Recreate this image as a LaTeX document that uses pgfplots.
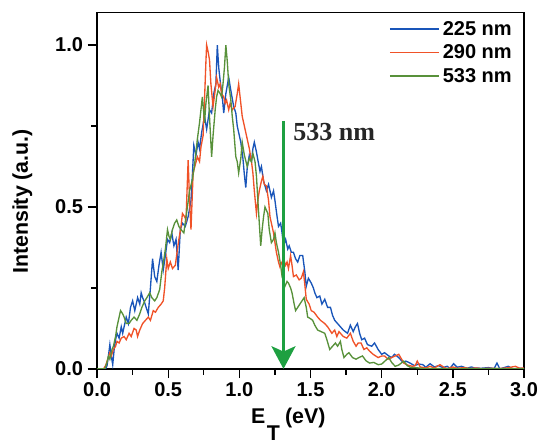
\documentclass[border=0pt]{standalone}
\usepackage{fontspec}
\setmainfont{Liberation Sans}
\newfontfamily\timesb{Liberation Serif}
\usepackage{pgfplots}
\pgfplotsset{compat=1.18}
\usetikzlibrary{arrows.meta}

\definecolor{c225}{RGB}{25,85,185}
\definecolor{c290}{RGB}{240,82,40}
\definecolor{c533}{RGB}{88,145,58}
\definecolor{arrowgreen}{RGB}{30,160,65}

\begin{document}
\begin{tikzpicture}
\begin{axis}[
  scale only axis,
  width=320pt, height=267pt,
  xmin=0, xmax=3, ymin=0, ymax=1.1,
  xtick={0,0.5,...,3}, ytick={0,0.5,1},
  minor x tick num=1, minor y tick num=1,
  xtick pos=bottom, ytick pos=left,
  tick align=outside,
  major tick length=7pt, minor tick length=4.5pt,
  every tick/.style={black, line width=1pt},
  axis line style={line width=1pt},
  /pgf/number format/assume math mode=true,
  /pgf/number format/.cd, fixed, fixed zerofill, precision=1, /pgfplots/.cd,
  tick label style={font=\bfseries\fontsize{15}{17}\selectfont},
  xlabel={E\raisebox{-13pt}[0pt][0pt]{\hspace{1pt}T}\hspace{4pt}(eV)},
  ylabel={Intensity (a.u.)},
  label style={font=\bfseries\fontsize{16}{18}\selectfont},
  xlabel style={at={(axis description cs:0.448,-0.152)}, anchor=base},
  ylabel style={at={(axis description cs:-0.175,0.47)}, anchor=center},
  legend style={at={(rel axis cs:1,1)}, anchor=north east, xshift=-6pt, yshift=-3.4pt,
    draw=none, fill=none, font=\bfseries\fontsize{15}{17}\selectfont,
    row sep=1.6pt, inner sep=1pt},
  legend cell align=left,
  legend image code/.code={\draw[#1, line width=1.2pt] (0pt,0.2pt) -- (37pt,0.2pt);},
]
\addplot[color=c225, line width=1pt] coordinates {
(0.00,0) (0.06,0) (0.07,0.01) (0.08,0.04) (0.09,0.075) (0.10,0.04) (0.11,0.013)
(0.12,0.06) (0.13,0.09) (0.14,0.11) (0.155,0.095) (0.17,0.13) (0.18,0.11) (0.19,0.13)
(0.205,0.16) (0.22,0.14) (0.235,0.19) (0.25,0.21) (0.265,0.18) (0.285,0.22) (0.30,0.20)
(0.31,0.235) (0.32,0.22) (0.33,0.21) (0.345,0.19) (0.36,0.17) (0.375,0.25) (0.39,0.34)
(0.405,0.285) (0.42,0.27) (0.435,0.32) (0.45,0.36) (0.465,0.305) (0.48,0.35) (0.495,0.40)
(0.51,0.39) (0.525,0.42) (0.54,0.38) (0.555,0.40) (0.57,0.305) (0.585,0.43) (0.60,0.45)
(0.62,0.44) (0.64,0.47) (0.66,0.52) (0.67,0.60) (0.68,0.69) (0.695,0.66) (0.71,0.70)
(0.72,0.68) (0.735,0.73) (0.755,0.78) (0.77,0.74) (0.79,0.80) (0.805,0.79) (0.82,0.85)
(0.835,0.88) (0.845,1.0) (0.855,0.93) (0.865,0.89) (0.88,0.84) (0.89,0.79) (0.905,0.85)
(0.925,0.90) (0.94,0.86) (0.96,0.81) (0.975,0.79) (0.985,0.75) (1.00,0.72) (1.01,0.70)
(1.025,0.65) (1.035,0.60) (1.045,0.56) (1.055,0.62) (1.07,0.66) (1.085,0.64) (1.095,0.68)
(1.105,0.70) (1.12,0.67) (1.13,0.645) (1.145,0.61) (1.155,0.625) (1.17,0.58) (1.19,0.55)
(1.205,0.57) (1.225,0.53) (1.24,0.55) (1.25,0.52) (1.265,0.47) (1.275,0.44) (1.29,0.45)
(1.30,0.42) (1.31,0.38) (1.325,0.40) (1.34,0.37) (1.35,0.38) (1.365,0.36) (1.38,0.36)
(1.395,0.34) (1.41,0.33) (1.425,0.35) (1.445,0.35) (1.46,0.30) (1.47,0.255) (1.485,0.28)
(1.505,0.265) (1.52,0.25) (1.53,0.235) (1.545,0.22) (1.565,0.225) (1.58,0.20) (1.60,0.215)
(1.62,0.19) (1.64,0.19) (1.655,0.165) (1.67,0.15) (1.69,0.14) (1.71,0.13) (1.73,0.12)
(1.76,0.11) (1.78,0.135) (1.80,0.115) (1.815,0.13) (1.83,0.14) (1.845,0.11) (1.86,0.09)
(1.88,0.095) (1.90,0.075) (1.93,0.07) (1.95,0.08) (1.975,0.06) (2.00,0.045) (2.02,0.05)
(2.05,0.04) (2.07,0.035) (2.09,0.045) (2.12,0.035) (2.15,0.02) (2.17,0.024) (2.20,0.018)
(2.23,0.01) (2.26,0.015) (2.29,0.013) (2.31,0.005) (2.34,0.016) (2.37,0.006) (2.40,0.01)
(2.43,0.004) (2.46,0.008) (2.48,0.002) (2.505,0.016) (2.53,0.005) (2.56,0.008) (2.60,0.002)
(2.63,0.006) (2.65,0.003) (2.70,0.002) (2.75,0.004) (2.79,0.001) (2.81,0.018) (2.83,0.0)
(2.86,0.004) (2.89,0.008) (2.92,0.0) (2.96,0.002) (3.00,0.001)
};
\addlegendentry{225 nm}
\addplot[color=c290, line width=1pt] coordinates {
(0.00,0) (0.045,0) (0.06,0.01) (0.075,0.03) (0.09,0.05) (0.10,0.04) (0.115,0.06)
(0.13,0.07) (0.14,0.085) (0.155,0.08) (0.17,0.095) (0.19,0.10) (0.205,0.09) (0.225,0.11)
(0.24,0.10) (0.26,0.125) (0.275,0.12) (0.285,0.10) (0.30,0.12) (0.32,0.14) (0.34,0.15)
(0.36,0.16) (0.375,0.15) (0.395,0.18) (0.41,0.175) (0.43,0.19) (0.45,0.20) (0.465,0.21)
(0.475,0.25) (0.49,0.34) (0.50,0.31) (0.515,0.33) (0.53,0.31) (0.55,0.32) (0.565,0.37)
(0.575,0.40) (0.59,0.44) (0.60,0.48) (0.615,0.47) (0.625,0.46) (0.64,0.645) (0.65,0.52)
(0.66,0.43) (0.675,0.605) (0.69,0.63) (0.705,0.655) (0.72,0.64) (0.73,0.685) (0.745,0.72)
(0.755,0.83) (0.765,0.95) (0.77,1.0) (0.78,0.98) (0.79,0.955) (0.80,0.88) (0.815,0.81)
(0.83,0.86) (0.84,0.90) (0.855,0.87) (0.865,0.88) (0.875,0.85) (0.89,0.84) (0.90,0.82)
(0.91,0.83) (0.925,0.80) (0.935,0.82) (0.95,0.80) (0.97,0.81) (0.985,0.85) (0.995,0.88)
(1.01,0.82) (1.02,0.78) (1.035,0.75) (1.055,0.71) (1.07,0.68) (1.085,0.64) (1.095,0.605)
(1.105,0.55) (1.12,0.48) (1.13,0.52) (1.14,0.55) (1.155,0.58) (1.165,0.595) (1.175,0.57)
(1.19,0.565) (1.205,0.52) (1.215,0.47) (1.23,0.44) (1.24,0.42) (1.25,0.39) (1.26,0.36)
(1.275,0.33) (1.285,0.315) (1.30,0.33) (1.31,0.34) (1.325,0.32) (1.335,0.33) (1.345,0.31)
(1.36,0.35) (1.37,0.32) (1.38,0.285) (1.40,0.29) (1.42,0.275) (1.435,0.28) (1.45,0.30)
(1.46,0.26) (1.47,0.215) (1.49,0.20) (1.505,0.18) (1.525,0.175) (1.55,0.16) (1.57,0.15)
(1.60,0.14) (1.62,0.13) (1.65,0.11) (1.67,0.12) (1.685,0.10) (1.70,0.115) (1.73,0.10)
(1.755,0.095) (1.78,0.11) (1.80,0.085) (1.82,0.07) (1.835,0.08) (1.855,0.08) (1.875,0.06)
(1.895,0.065) (1.915,0.055) (1.94,0.045) (1.975,0.035) (2.00,0.04) (2.02,0.04) (2.045,0.03)
(2.07,0.035) (2.095,0.04) (2.12,0.045) (2.14,0.03) (2.155,0.018) (2.18,0.012) (2.215,0.008)
(2.235,0.01) (2.25,0.024) (2.27,0.006) (2.31,0.003) (2.34,0.008) (2.37,0.003) (2.41,0.013)
(2.44,0.004) (2.46,0.001) (2.50,0.006) (2.53,0.002) (2.58,0.004) (2.62,0.001) (2.66,0.003)
(2.70,0.001) (2.76,0.002) (2.82,0.001) (2.88,0.003) (2.94,0.008) (2.97,0.002) (3.00,0.003)
};
\addlegendentry{290 nm}
\addplot[color=c533, line width=1pt] coordinates {
(0.00,0) (0.055,0) (0.07,0.02) (0.08,0.04) (0.09,0.03) (0.105,0.06) (0.115,0.07)
(0.13,0.10) (0.14,0.13) (0.155,0.16) (0.165,0.18) (0.18,0.17) (0.19,0.16) (0.205,0.14)
(0.225,0.14) (0.24,0.15) (0.26,0.16) (0.28,0.15) (0.30,0.17) (0.315,0.19) (0.335,0.21)
(0.35,0.22) (0.37,0.235) (0.385,0.22) (0.405,0.21) (0.42,0.22) (0.44,0.245) (0.455,0.30)
(0.47,0.34) (0.48,0.37) (0.495,0.43) (0.505,0.41) (0.515,0.40) (0.53,0.43) (0.545,0.45)
(0.56,0.46) (0.575,0.44) (0.59,0.43) (0.61,0.42) (0.625,0.47) (0.635,0.50) (0.65,0.55)
(0.67,0.585) (0.685,0.63) (0.705,0.71) (0.72,0.76) (0.73,0.80) (0.74,0.84) (0.75,0.79)
(0.755,0.76) (0.765,0.82) (0.78,0.875) (0.79,0.78) (0.805,0.655) (0.815,0.72) (0.83,0.80)
(0.84,0.84) (0.85,0.86) (0.865,0.85) (0.875,0.84) (0.885,0.88) (0.895,0.93) (0.905,1.0)
(0.915,0.95) (0.925,0.88) (0.94,0.83) (0.95,0.78) (0.96,0.74) (0.975,0.655) (0.985,0.64)
(0.995,0.605) (1.01,0.65) (1.02,0.70) (1.035,0.66) (1.055,0.625) (1.07,0.65) (1.085,0.64)
(1.095,0.665) (1.11,0.64) (1.12,0.595) (1.13,0.52) (1.14,0.45) (1.15,0.38) (1.16,0.43)
(1.17,0.47) (1.18,0.50) (1.19,0.49) (1.20,0.48) (1.21,0.43) (1.225,0.39) (1.24,0.40)
(1.25,0.42) (1.26,0.39) (1.275,0.36) (1.29,0.32) (1.30,0.285) (1.31,0.27) (1.32,0.255)
(1.335,0.27) (1.345,0.265) (1.36,0.25) (1.37,0.235) (1.385,0.20) (1.395,0.18) (1.41,0.19)
(1.425,0.20) (1.44,0.21) (1.455,0.22) (1.47,0.19) (1.48,0.16) (1.50,0.155) (1.515,0.15)
(1.53,0.135) (1.55,0.12) (1.575,0.115) (1.60,0.11) (1.615,0.09) (1.635,0.06) (1.655,0.07)
(1.675,0.08) (1.69,0.07) (1.71,0.085) (1.72,0.06) (1.735,0.035) (1.755,0.045) (1.77,0.05)
(1.795,0.035) (1.82,0.03) (1.84,0.035) (1.865,0.04) (1.89,0.025) (1.915,0.018) (1.945,0.02)
(1.975,0.013) (2.00,0.015) (2.025,0.025) (2.05,0.035) (2.07,0.02) (2.095,0.008) (2.12,0.012)
(2.155,0.024) (2.18,0.01) (2.205,0.004) (2.26,0.003) (2.30,0.001) (2.40,0.001) (2.50,0.0)
(2.60,0.001) (2.70,0.0) (2.80,0.001) (2.90,0.0) (3.00,0.0)
};
\addlegendentry{533 nm}
\draw[arrowgreen, line width=2pt, -{Stealth[length=17pt, width=18pt, inset=4pt]}]
  (axis cs:1.31,0.766) -- (axis cs:1.31,0);
\node[anchor=west, inner sep=0pt, text=black!85, font=\timesb\bfseries\fontsize{19.5}{22}\selectfont]
  at (axis cs:1.377,0.732) {533 nm};
\coordinate (sw) at (rel axis cs:0,0);
\coordinate (ne) at (rel axis cs:1,1);
\end{axis}
\pgfresetboundingbox
\path[use as bounding box] ([shift={(-72.75pt,-56.25pt)}]sw) rectangle ([shift={(10.5pt,9.5pt)}]ne);
\end{tikzpicture}
\end{document}
